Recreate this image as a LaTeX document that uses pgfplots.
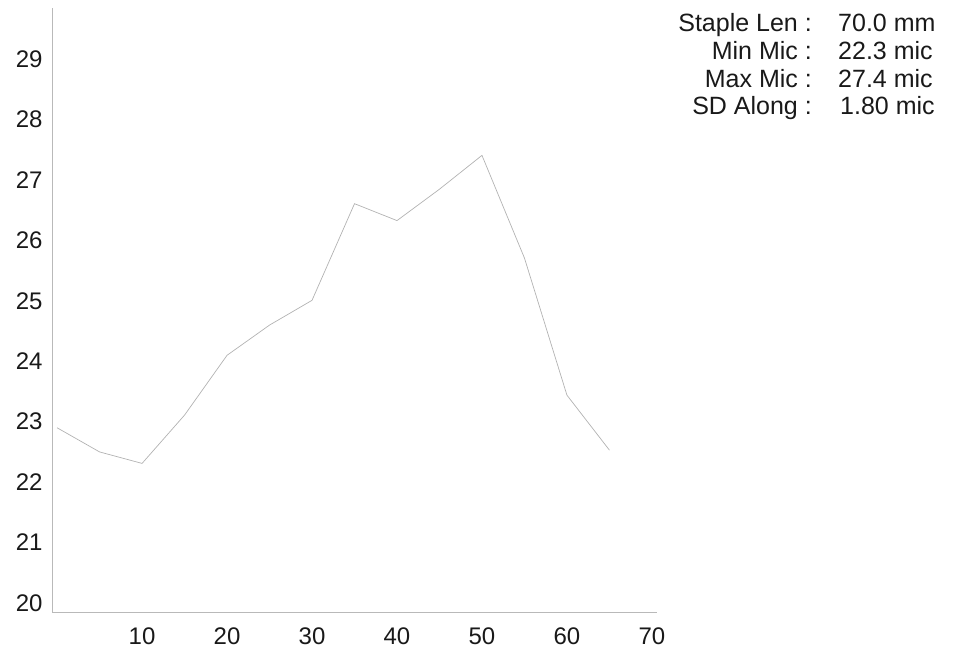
\documentclass[border=0pt]{standalone}
\usepackage{fontspec}
\setmainfont{Liberation Sans}
\usepackage{pgfplots}
\pgfplotsset{compat=1.18}
\begin{document}
\begin{tikzpicture}[x=1bp,y=1bp]
\path[use as bounding box] (0,0) rectangle (959,649);
\begin{axis}[
  at={(52bp,37bp)}, anchor=south west,
  scale only axis, width=605bp, height=604bp,
  xmin=-0.6, xmax=70.6, ymin=19.85, ymax=29.85,
  axis x line*=bottom, axis y line*=left,
  axis line style={gray!55, line width=0.6bp, -},
  xtick={10,20,...,70}, ytick={20,21,...,29},
  major tick length=0pt,
  tick style={draw=none},
  /pgf/number format/assume math mode=true,
  ticklabel style={font=\fontsize{24bp}{28bp}\selectfont, text=black!90},
  xticklabel style={yshift=-12bp},
  yticklabel style={xshift=-6bp},
  clip=false,
]
\addplot[gray!60, line width=0.7bp, mark=none] coordinates {
  (0,22.90) (5,22.50) (10,22.31) (15,23.11) (20,24.10) (25,24.60)
  (30,25.01) (35,26.61) (40,26.33) (45,26.85) (50,27.41) (55,25.71)
  (60,23.44) (65,22.53)
};
\end{axis}
\begin{scope}[every node/.style={inner sep=0pt, font=\fontsize{25bp}{29bp}\selectfont, text=black!90}]
\node[anchor=base east] at (812,617.3) {Staple Len :};
\node[anchor=base east] at (812,589.5) {Min Mic :};
\node[anchor=base east] at (812,561.5) {Max Mic :};
\node[anchor=base east] at (812,534) {SD Along :};
\node[anchor=base west] at (838,617.3) {70.0 mm};
\node[anchor=base west] at (838,589.5) {22.3 mic};
\node[anchor=base west] at (838,561.5) {27.4 mic};
\node[anchor=base west] at (840,534) {1.80 mic};
\end{scope}
\end{tikzpicture}
\end{document}
